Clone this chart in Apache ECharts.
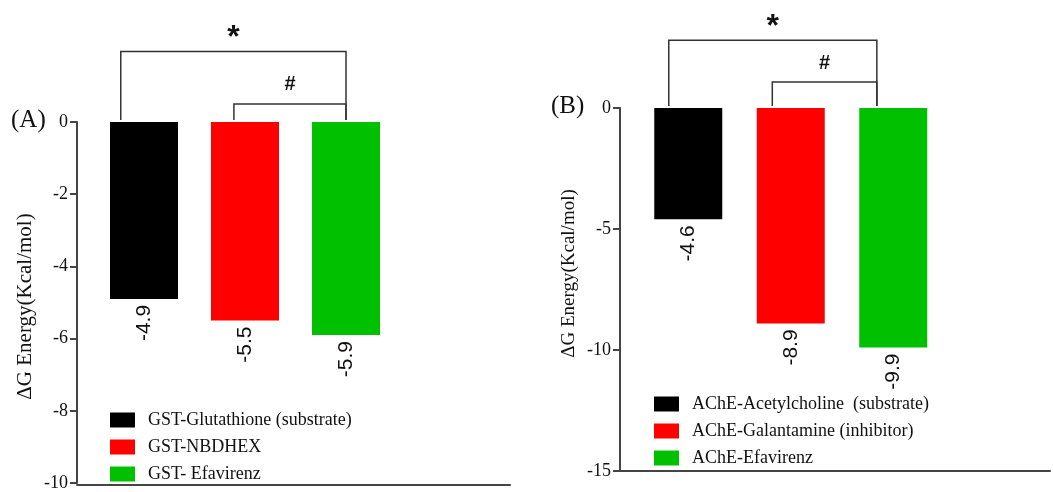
<!DOCTYPE html>
<html>
<head>
<meta charset="utf-8">
<script src="https://cdn.jsdelivr.net/npm/echarts@6/dist/echarts.min.js"></script>
<style>
  html, body { margin: 0; padding: 0; background: #fff; }
  #chart { width: 1053px; height: 492px; }
</style>
</head>
<body>
<div id="chart"></div>
<script>
// panel A: GST
const namesA = ['GST-Glutathione (substrate)', 'GST-NBDHEX', 'GST- Efavirenz']
const valuesA = [-4.9, -5.5, -5.9]
const ticksA = { min: -10, max: 0, interval: 2 }

// panel B: AChE
const namesB = ['AChE-Acetylcholine  (substrate)', 'AChE-Galantamine (inhibitor)', 'AChE-Efavirenz']
const valuesB = [-4.6, -8.9, -9.9]
const ticksB = { min: -15, max: 0, interval: 5 }

const colors = ['#000000', '#ff0000', '#00c000']

// significance brackets (category index from/to, height in axis units)
const bracketsA = [
  { from: 0, to: 2, y: 1.95, fromShift: -0.23, toShift: 0, mark: '*' },
  { from: 1, to: 2, y: 0.5, fromShift: -0.11, toShift: 0, mark: '#' }
]
const bracketsB = [
  { from: 0, to: 2, y: 2.8, fromShift: -0.19, toShift: -0.16, mark: '*' },
  { from: 1, to: 2, y: 1.07, fromShift: -0.18, toShift: -0.16, mark: '#' }
]

const serif = 'Liberation Serif'
const sans = 'Liberation Sans'
const axisColor = '#444'

function barSeries (names, values, axisIdx, stack) {
  return names.map((name, i) => ({
    name,
    type: 'bar',
    stack,
    xAxisIndex: axisIdx,
    yAxisIndex: axisIdx,
    barWidth: 68,
    itemStyle: { color: colors[i] },
    label: {
      show: true,
      position: 'bottom',
      rotate: 90,
      align: 'right',
      verticalAlign: 'middle',
      distance: 6,
      fontFamily: sans,
      fontSize: 21,
      color: '#111'
    },
    data: values.map((v, j) => (j === i ? v : '-'))
  }))
}

function bracketSeries (list, axisIdx) {
  return {
    type: 'custom',
    xAxisIndex: axisIdx,
    yAxisIndex: axisIdx,
    clip: false,
    silent: true,
    encode: { x: [0, 2], y: 1 },
    data: list.map(b => [b.from, b.y, b.to]),
    renderItem (params, api) {
      const b = list[params.dataIndex]
      const band = api.size([1, 0])[0]
      const p1 = api.coord([b.from, 0])
      const p2 = api.coord([b.to, 0])
      const top = api.coord([b.from, b.y])[1]
      const base = p1[1] - 2
      const x1 = p1[0] + b.fromShift * band
      const x2 = p2[0] + b.toShift * band
      const star = b.mark === '*'
      return {
        type: 'group',
        children: [
          {
            type: 'polyline',
            shape: { points: [[x1, base], [x1, top], [x2, top], [x2, base]] },
            style: { fill: null, stroke: '#333', lineWidth: 1.5 }
          },
          {
            type: 'text',
            style: {
              text: b.mark,
              x: (x1 + x2) / 2,
              y: top - (star ? 13 : 19),
              align: 'center',
              verticalAlign: 'middle',
              font: star ? 'bold 32px Liberation Sans' : 'bold 20px Liberation Sans',
              fill: '#111'
            }
          }
        ]
      }
    }
  }
}

function valueAxis (ticks, gridIndex, offset, nameSize, namePadding) {
  return {
    type: 'value',
    gridIndex,
    min: ticks.min,
    max: ticks.max,
    interval: ticks.interval,
    offset,
    name: 'ΔG Energy(Kcal/mol)',
    nameLocation: 'middle',
    nameGap: 41,
    nameTextStyle: { fontFamily: serif, fontSize: nameSize, color: '#111', padding: namePadding },
    axisLine: { show: true, lineStyle: { color: axisColor, width: 2 } },
    axisTick: { show: true, length: 7, lineStyle: { color: axisColor, width: 2 } },
    axisLabel: { margin: 9, fontFamily: serif, fontSize: 18, color: '#111' },
    splitLine: { show: false }
  }
}

function hiddenY (ticks, gridIndex) {
  return { type: 'value', gridIndex, min: ticks.min, max: ticks.max, show: false }
}

function baseX (gridIndex) {
  return {
    type: 'value',
    gridIndex,
    min: 0,
    max: 1,
    axisLine: { show: true, onZero: false, lineStyle: { color: axisColor, width: 2 } },
    axisTick: { show: false },
    axisLabel: { show: false },
    splitLine: { show: false }
  }
}

function catX (gridIndex) {
  return {
    type: 'category',
    gridIndex,
    data: ['1', '2', '3'],
    axisLine: { show: false },
    axisTick: { show: false },
    axisLabel: { show: false }
  }
}

function legend (names, left, top) {
  return {
    data: names,
    orient: 'vertical',
    left,
    top,
    padding: 0,
    icon: 'rect',
    itemWidth: 25,
    itemHeight: 15,
    itemGap: 9,
    selectedMode: false,
    textStyle: { fontFamily: serif, fontSize: 18, lineHeight: 18, color: '#111', padding: [0, 0, 0, 8] }
  }
}

const chart = echarts.init(document.getElementById('chart'))

chart.setOption({
  animation: false,
  backgroundColor: '#fff',
  title: [
    { text: '(A)', left: 11, top: 108, padding: 0, textStyle: { fontFamily: serif, fontSize: 25, fontWeight: 'normal', color: '#111' } },
    { text: '(B)', left: 551, top: 94, padding: 0, textStyle: { fontFamily: serif, fontSize: 25, fontWeight: 'normal', color: '#111' } }
  ],
  legend: [legend(namesA, 110, 411), legend(namesB, 654, 395)],
  grid: [
    { left: 93.5, width: 303, top: 122, height: 363 },
    { left: 77, width: 433, top: 122, height: 363 },
    { left: 637, width: 307.5, top: 108, height: 363 },
    { left: 620, width: 430, top: 108, height: 363 }
  ],
  xAxis: [catX(0), baseX(1), catX(2), baseX(3)],
  yAxis: [
    valueAxis(ticksA, 0, 16.5, 21, [0, 8, 0, 0]),
    hiddenY(ticksA, 1),
    valueAxis(ticksB, 2, 17, 19, [0, 0, 0, 32]),
    hiddenY(ticksB, 3)
  ],
  series: [
    ...barSeries(namesA, valuesA, 0, 'a'),
    bracketSeries(bracketsA, 0),
    ...barSeries(namesB, valuesB, 2, 'b'),
    bracketSeries(bracketsB, 2)
  ]
})
</script>
</body>
</html>
